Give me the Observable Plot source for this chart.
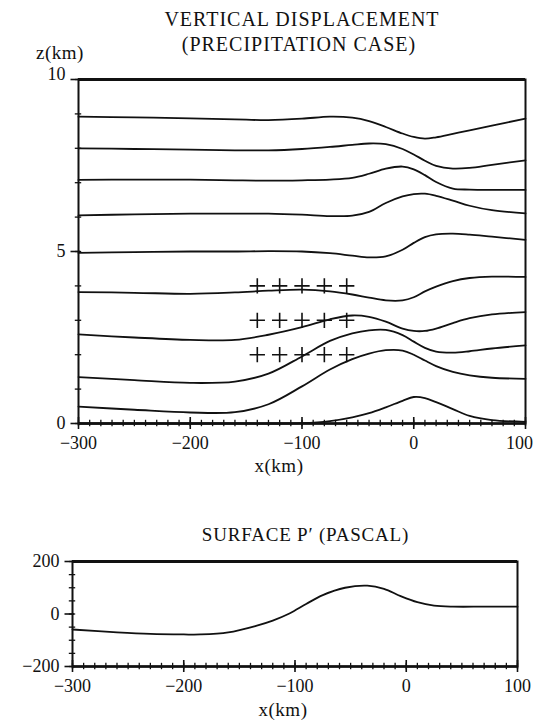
<!DOCTYPE html>
<html>
<head>
<meta charset="utf-8">
<script src="https://cdn.jsdelivr.net/npm/d3@7"></script>
<script src="https://cdn.jsdelivr.net/npm/@observablehq/plot@0.6"></script>
<style>
  html, body { margin: 0; padding: 0; background: #fff; }
  #page { position: relative; width: 536px; height: 721px; overflow: hidden; font-family: "Liberation Serif", serif; color: #111; }
  .lbl { position: absolute; white-space: nowrap; line-height: 1; }
  .plot { position: absolute; left: 0; }
</style>
</head>
<body>
<div id="page">
  <div class="plot" id="topPlot" style="top:0;"></div>
  <div class="plot" id="botPlot" style="top:480px;"></div>
  <div class="lbl" id="t1" style="left:0;width:604px;text-align:center;top:9px;font-size:20px;letter-spacing:1px;">VERTICAL DISPLACEMENT</div>
  <div class="lbl" id="t2" style="left:0;width:598px;text-align:center;top:34px;font-size:20px;letter-spacing:1px;">(PRECIPITATION CASE)</div>
  <div class="lbl" id="zl" style="left:36px;top:43px;font-size:19px;letter-spacing:0.5px;">z(km)</div>
  <div class="lbl" id="xl1" style="left:0;width:558px;text-align:center;top:456px;font-size:19px;letter-spacing:0.5px;">x(km)</div>
  <div class="lbl" id="t3" style="left:0;width:611px;text-align:center;top:525px;font-size:19px;letter-spacing:0.8px;">SURFACE P′ (PASCAL)</div>
  <div class="lbl" id="xl2" style="left:0;width:566px;text-align:center;top:700px;font-size:19px;letter-spacing:0.5px;">x(km)</div>
</div>
<script>
// ---------- data ----------
const xGrid = [-300, -250, -200, -160, -130, -100, -75, -55, -40, -25, -10, 0, 10, 20, 35, 50, 70, 100];
const z1 = [8.92, 8.90, 8.87, 8.84, 8.82, 8.86, 8.92, 8.89, 8.79, 8.62, 8.43, 8.33, 8.28, 8.32, 8.42, 8.52, 8.66, 8.86];
const z2 = [8.00, 7.98, 7.96, 7.94, 7.94, 7.98, 8.04, 8.10, 8.14, 8.12, 7.98, 7.82, 7.64, 7.49, 7.41, 7.43, 7.52, 7.65];
const z3 = [7.08, 7.09, 7.09, 7.07, 7.06, 7.07, 7.09, 7.14, 7.26, 7.41, 7.47, 7.39, 7.22, 7.02, 6.83, 6.80, 6.79, 6.79];
const z4 = [6.05, 6.08, 6.10, 6.10, 6.10, 6.07, 6.03, 6.04, 6.15, 6.41, 6.60, 6.67, 6.68, 6.62, 6.48, 6.33, 6.20, 6.11];
const z5 = [4.96, 4.98, 5.00, 5.00, 5.01, 5.00, 4.95, 4.88, 4.83, 4.86, 5.05, 5.25, 5.42, 5.50, 5.52, 5.49, 5.43, 5.34];
const z6 = [3.82, 3.80, 3.77, 3.81, 3.86, 3.89, 3.84, 3.75, 3.66, 3.58, 3.58, 3.67, 3.84, 3.98, 4.14, 4.23, 4.27, 4.26];
const z7 = [2.59, 2.50, 2.43, 2.43, 2.58, 2.80, 3.03, 3.14, 3.10, 2.96, 2.76, 2.69, 2.69, 2.76, 2.92, 3.06, 3.17, 3.24];
const z8 = [1.35, 1.26, 1.18, 1.22, 1.45, 1.95, 2.40, 2.62, 2.71, 2.72, 2.57, 2.38, 2.20, 2.09, 2.06, 2.10, 2.18, 2.27];
const z9 = [0.49, 0.40, 0.32, 0.33, 0.56, 1.08, 1.57, 1.87, 2.03, 2.13, 2.12, 2.00, 1.83, 1.67, 1.50, 1.40, 1.33, 1.30];
const z10 = [0.00, 0.00, 0.00, 0.00, 0.00, 0.01, 0.07, 0.18, 0.30, 0.47, 0.66, 0.77, 0.74, 0.62, 0.42, 0.22, 0.10, 0.05];

const plusX = [-140, -120, -100, -80, -60];
const plusZ = [4, 3, 2];

const pX = [-300, -260, -230, -200, -185, -160, -135, -120, -105, -90, -75, -55, -35, -20, -5, 10, 25, 42, 70, 100];
const pVal = [-59, -70, -76, -78, -78, -70, -45, -25, 2, 38, 72, 100, 108, 96, 68, 45, 32, 28, 28, 28];

const xMajor = [-300, -200, -100, 0, 100];
const xMinor = d3.range(-300, 101, 10);
const zMajor = [0, 5, 10];
const zMinor = d3.range(0, 11, 1);
const pMajor = [-200, 0, 200];
const pMinor = d3.range(-200, 201, 50);

// ---------- build tables ----------
const seriesZ = [z1, z2, z3, z4, z5, z6, z7, z8, z9, z10];
const lineRows = seriesZ.flatMap((zs, k) => xGrid.map((x, i) => ({x, z: zs[i], s: k})));
const plusRows = plusZ.flatMap(z => plusX.map(x => ({x, z})));
const pRows = pX.map((x, i) => ({x, p: pVal[i]}));

const FONT = "Liberation Serif";
const W = 536;

function panel({height, ml, mr, mt, mb, yDomain, yMajor, yMinorT, lastDx, lastDy, marks}) {
  const xPerPx = (100 - (-300)) / (W - ml - mr);
  const yPerPx = (yDomain[1] - yDomain[0]) / (height - mt - mb);
  const x0 = -300, y0 = yDomain[0], yTop = yDomain[1];
  const axisStyle = {tickSize: 0, tickPadding: 13, fontSize: 18, fill: "#111", label: null, style: "letter-spacing:1.8px"};
  return Plot.plot({
    width: W, height,
    marginLeft: ml, marginRight: mr, marginTop: mt, marginBottom: mb,
    x: {domain: [-300, 100]},
    y: {domain: yDomain},
    style: {fontFamily: FONT, background: "transparent", color: "#111"},
    marks: [
      ...marks,
      Plot.frame({stroke: "#111", strokeWidth: 2}),
      Plot.ruleY([yTop], {stroke: "#111", strokeWidth: 3}),
      Plot.ruleY([y0], {stroke: "#111", strokeWidth: 2.4}),
      Plot.ruleX(xMinor, {x: d => d, y1: y0 - 3.2 * yPerPx, y2: y0 + 3.2 * yPerPx, stroke: "#111", strokeWidth: 1.3}),
      Plot.ruleX(xMajor, {x: d => d, y1: y0 - 6 * yPerPx, y2: y0 + 6 * yPerPx, stroke: "#111", strokeWidth: 1.6}),
      Plot.ruleY(yMinorT, {y: d => d, x1: x0 - 3.2 * xPerPx, x2: x0 + 3.2 * xPerPx, stroke: "#111", strokeWidth: 1.3}),
      Plot.ruleY(yMajor, {y: d => d, x1: x0 - 7.5 * xPerPx, x2: x0 + 2 * xPerPx, stroke: "#111", strokeWidth: 1.6}),
      Plot.axisX(xMajor.slice(0, -1), axisStyle),
      Plot.axisX(xMajor.slice(-1), {...axisStyle, dx: lastDx}),
      Plot.axisY(yMajor.slice(0, -1), axisStyle),
      Plot.axisY(yMajor.slice(-1), {...axisStyle, dy: lastDy})
    ]
  });
}

const topChart = panel({
  height: 480, ml: 78, mr: 11, mt: 79, mb: 57,
  yDomain: [0, 10], yMajor: zMajor, yMinorT: zMinor, lastDx: -6, lastDy: -5,
  marks: [
    Plot.line(lineRows, {x: "x", y: "z", z: "s", curve: "catmull-rom", stroke: "#111", strokeWidth: 1.8}),
    Plot.dot(plusRows, {x: "x", y: "z", symbol: "plus", r: 5, stroke: "#111", strokeWidth: 1.6})
  ]
});
document.getElementById("topPlot").appendChild(topChart);

const botChart = panel({
  height: 241, ml: 72, mr: 19, mt: 81, mb: 55,
  yDomain: [-200, 200], yMajor: pMajor, yMinorT: pMinor, lastDx: 0, lastDy: 0,
  marks: [
    Plot.line(pRows, {x: "x", y: "p", curve: "catmull-rom", stroke: "#111", strokeWidth: 1.8})
  ]
});
document.getElementById("botPlot").appendChild(botChart);
</script>
</body>
</html>
